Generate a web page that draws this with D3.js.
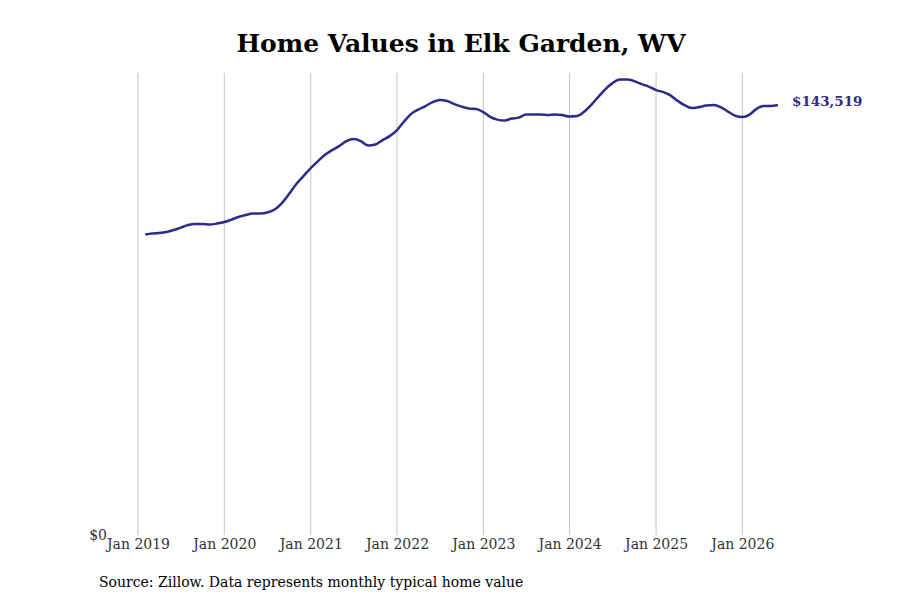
<!DOCTYPE html>
<html>
<head>
<meta charset="utf-8">
<script src="https://cdn.jsdelivr.net/npm/d3@7"></script>
<style>
  body { margin: 0; background: #fff; }
  text { font-family: "DejaVu Serif", serif; }
</style>
</head>
<body>
<svg id="chart"></svg>
<script>
// monthly typical home value, Feb 2019 .. Jun 2026
var startMonth = "2019-02";
var homeValues = [
  100300, 100630, 100800, 101130, 101800, 102630, 103470, 103800, 103800, 103640, 103970,
  104470, 105300, 106140, 106810, 107310, 107310, 107640, 108640, 110810, 113820, 117150, 119820,
  122490, 124830, 126830, 128500, 129840, 131500, 132170, 131500, 130000, 130340, 131840, 133170,
  135180, 138180, 140520, 142020, 143190, 144520, 145190, 144860, 143860, 143020, 142350, 142190,
  141190, 139520, 138680, 138350, 139020, 139350, 140350, 140350, 140350, 140180, 140350, 140180,
  139680, 139850, 141190, 143520, 146190, 148860, 150860, 152030, 152030, 151530, 150530, 149700,
  148530, 147860, 146860, 145020, 143520, 142520, 142850, 143350, 143520, 142850, 141350, 140020,
  139520, 140350, 142190, 143190, 143190, 143519
];
var tickYears = [2019, 2020, 2021, 2022, 2023, 2024, 2025, 2026];
var titleText = "Home Values in Elk Garden, WV";
var sourceText = "Source: Zillow. Data represents monthly typical home value";

var screen = {width: 900, height: 600};
var margins = {top: 73, bottom: 65, left: 138, right: 122};
var graph = {
    width: screen.width - margins.left - margins.right,
    height: screen.height - margins.top - margins.bottom
};

var parseMonth = d3.timeParse("%Y-%m");
var first = parseMonth(startMonth);
var data = homeValues.map(function(v, i) {
    return {date: d3.timeMonth.offset(first, i), value: v};
});

var svg = d3.select("#chart")
    .attr("width", screen.width)
    .attr("height", screen.height);

var xScale = d3.scaleTime()
    .domain([new Date(2019, 0, 1), data[data.length - 1].date])
    .range([0, graph.width]);

var yScale = d3.scaleLinear()
    .domain([0, d3.max(homeValues) * 1.0145])
    .range([graph.height, 0]);

var g = svg.append("g")
    .attr("transform", "translate(" + margins.left + "," + margins.top + ")");

// vertical grid at each January
g.selectAll("line.grid")
    .data(tickYears)
    .enter()
    .append("line")
    .attr("class", "grid")
    .attr("x1", function(y) { return xScale(new Date(y, 0, 1)); })
    .attr("x2", function(y) { return xScale(new Date(y, 0, 1)); })
    .attr("y1", 0)
    .attr("y2", graph.height)
    .attr("stroke", "#c4c4c4")
    .attr("stroke-width", 1);

var xAxis = d3.axisBottom(xScale)
    .tickValues(tickYears.map(function(y) { return new Date(y, 0, 1); }))
    .tickFormat(d3.timeFormat("Jan %Y"))
    .tickSize(0)
    .tickPadding(4);

var xg = g.append("g")
    .attr("transform", "translate(0," + graph.height + ")")
    .call(xAxis);
xg.select(".domain").remove();
xg.selectAll("text")
    .attr("font-family", "DejaVu Serif")
    .attr("font-size", 14)
    .attr("fill", "#333");

var yAxis = d3.axisLeft(yScale)
    .tickValues([0])
    .tickFormat(function(d) { return "$" + d; })
    .tickSize(0)
    .tickPadding(31);

var yg = g.append("g").call(yAxis);
yg.select(".domain").remove();
yg.selectAll("text")
    .attr("font-family", "DejaVu Serif")
    .attr("font-size", 14)
    .attr("fill", "#333");

var lineGenerator = d3.line()
    .x(function(d) { return xScale(d.date); })
    .y(function(d) { return yScale(d.value); })
    .curve(d3.curveMonotoneX);

g.append("path")
    .datum(data)
    .attr("d", lineGenerator)
    .attr("fill", "none")
    .attr("stroke", "#2e2b88")
    .attr("stroke-width", 2.5);

var last = data[data.length - 1];
g.append("text")
    .attr("x", xScale(last.date) + 14)
    .attr("y", yScale(last.value) - 4)
    .attr("dy", "0.35em")
    .attr("font-size", 13.5)
    .attr("font-weight", "bold")
    .attr("fill", "#2e2b88")
    .text(d3.format("$,")(last.value));

svg.append("text")
    .attr("x", 461)
    .attr("y", 52)
    .attr("text-anchor", "middle")
    .attr("font-size", 25)
    .attr("font-weight", "bold")
    .attr("fill", "#000")
    .text(titleText);

svg.append("text")
    .attr("x", 99)
    .attr("y", 587)
    .attr("font-size", 14)
    .attr("fill", "#000")
    .text(sourceText);
</script>
</body>
</html>
